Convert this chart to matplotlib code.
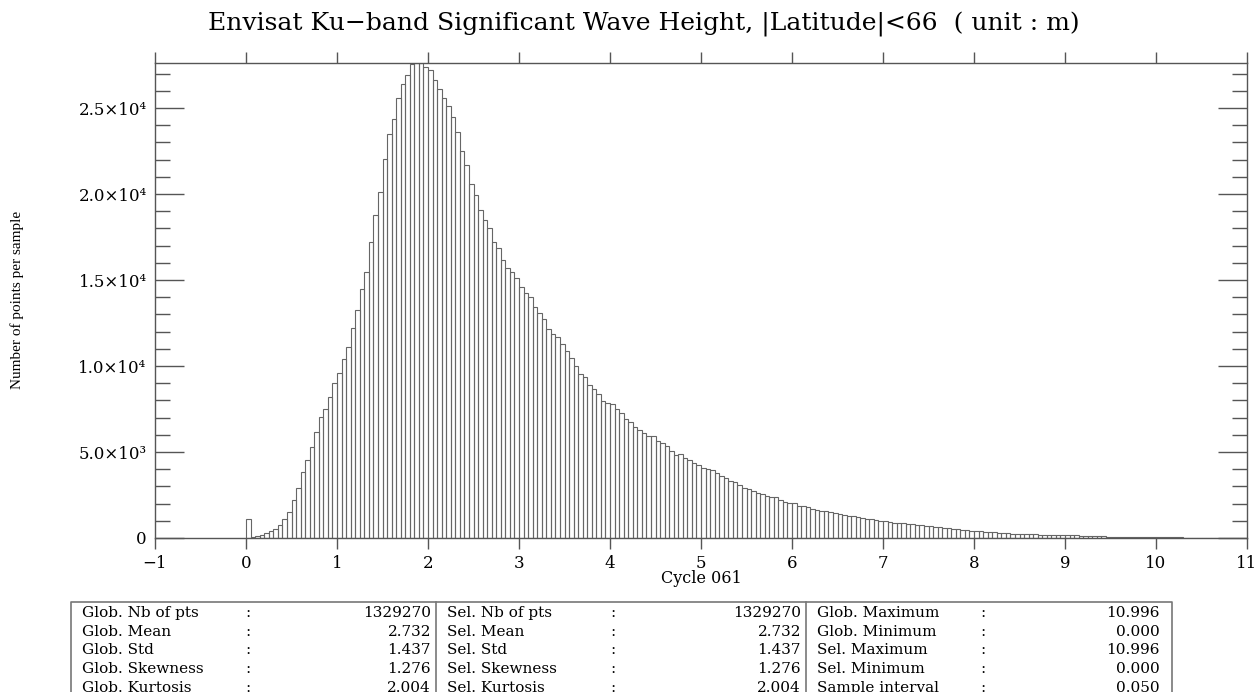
import numpy as np
import matplotlib.pyplot as plt
from matplotlib.ticker import MultipleLocator, FuncFormatter

# histogram of significant wave height, bin width 0.05 m, counts read per unit of x
bin_width = 0.05
counts_0_1 = [1105, 58, 116, 194, 290, 407, 523, 756, 1085, 1531,
              2229, 2926, 3818, 4554, 5291, 6183, 7055, 7482, 8199, 9013]
counts_1_2 = [9575, 10388, 11085, 12192, 13256, 14500, 15495, 17229, 18790, 20110,
              22065, 23515, 24341, 25601, 26425, 26940, 27560, 27620, 27610, 27400]
counts_2_3 = [27230, 26610, 26135, 25610, 25126, 24496, 23595, 22481, 21705, 20590,
              19932, 19060, 18508, 18023, 17210, 16870, 16182, 15678, 15485, 15097]
counts_3_4 = [14574, 14264, 14012, 13411, 13101, 12752, 12132, 11841, 11686, 11260,
              10892, 10446, 9981, 9535, 9380, 8895, 8663, 8392, 7985, 7868]
counts_4_5 = [7771, 7500, 7248, 6919, 6764, 6473, 6260, 6105, 5950, 5950,
              5659, 5504, 5330, 5058, 4826, 4864, 4671, 4554, 4341, 4244]
counts_5_6 = [4070, 4031, 3934, 3760, 3624, 3508, 3295, 3256, 3062, 2926,
              2829, 2713, 2636, 2578, 2423, 2403, 2364, 2190, 2093, 2016]
counts_6_7 = [2016, 1860, 1841, 1802, 1667, 1647, 1590, 1550, 1500, 1440,
              1390, 1330, 1290, 1270, 1220, 1170, 1120, 1080, 1040, 1000]
counts_7_8 = [980, 940, 900, 870, 850, 820, 790, 760, 730, 710,
              690, 650, 620, 590, 560, 540, 510, 480, 450, 420]
counts_8_9 = [400, 380, 360, 340, 330, 310, 290, 270, 260, 250,
              240, 230, 220, 210, 200, 195, 190, 180, 170, 165]
counts_9_10 = [160, 155, 150, 140, 130, 120, 110, 100, 90, 85,
               80, 75, 70, 65, 60, 55, 50, 48, 45, 42]
counts_10_11 = [40, 38, 36, 34, 32, 30, 29, 28, 27, 26,
                25, 24, 23, 22, 21, 20, 20, 19, 18, 17]

counts = np.array(counts_0_1 + counts_1_2 + counts_2_3 + counts_3_4 + counts_4_5
                  + counts_5_6 + counts_6_7 + counts_7_8 + counts_8_9
                  + counts_9_10 + counts_10_11)
edges = np.arange(len(counts)) * bin_width

x_ticks = list(range(-1, 12))

# statistics table (three columns)
col1_names = ['Glob. Nb of pts', 'Glob. Mean', 'Glob. Std', 'Glob. Skewness', 'Glob. Kurtosis']
col1_vals = ['1329270', '2.732', '1.437', '1.276', '2.004']
col2_names = ['Sel. Nb of pts', 'Sel. Mean', 'Sel. Std', 'Sel. Skewness', 'Sel. Kurtosis']
col2_vals = ['1329270', '2.732', '1.437', '1.276', '2.004']
col3_names = ['Glob. Maximum', 'Glob. Minimum', 'Sel. Maximum', 'Sel. Minimum', 'Sample interval']
col3_vals = ['10.996', '0.000', '10.996', '0.000', '0.050']

serif = ['DejaVu Serif']
line_col = '#555555'

W, H = 1260, 692
fig = plt.figure(figsize=(W / 100, H / 100), dpi=100)
ax = fig.add_axes([155 / W, 154 / H, 1092 / W, 475 / H])

ax.bar(edges, counts, width=bin_width, align='edge', fill=False,
       edgecolor='#666666', linewidth=0.8)

ax.set_xlim(-1, 11)
ax.set_ylim(0, counts.max())

for s in ax.spines.values():
    s.set_color(line_col)
    s.set_linewidth(1.0)

ax.set_xticks(x_ticks)
ax.set_xticklabels([str(v).replace('-', '\u2212') for v in x_ticks],
                   family=serif, fontsize=12)
ax.tick_params(axis='x', direction='out', length=8, width=1, color=line_col,
               top=True, pad=4)

sup = str.maketrans('0123456789', '\u2070\u00b9\u00b2\u00b3\u2074\u2075\u2076\u2077\u2078\u2079')


def sci_fmt(v, pos):
    if v <= 0:
        return '0'
    e = int(np.floor(np.log10(v)))
    return '%.1f\u00d710%s' % (v / 10 ** e, str(e).translate(sup))


ax.yaxis.set_major_locator(MultipleLocator(5000))
ax.yaxis.set_minor_locator(MultipleLocator(1000))
ax.yaxis.set_major_formatter(FuncFormatter(sci_fmt))
ax.tick_params(axis='y', which='major', direction='in', length=21, width=1,
               color=line_col, right=True, pad=6, labelsize=12)
ax.tick_params(axis='y', which='minor', direction='in', length=11, width=1,
               color=line_col, right=True)
for lab in ax.get_yticklabels():
    lab.set_family(serif)

ax.set_xlabel('Cycle 061', family=serif, fontsize=11.5, labelpad=-1)

fig.text(644 / W, 1 - 24 / H,
         'Envisat Ku\u2212band Significant Wave Height, |Latitude|<66  ( unit : m)',
         ha='center', va='center', family=serif, fontsize=18)
fig.text(17 / W, 1 - 300 / H, 'Number of points per sample', rotation=90,
         ha='center', va='center', family=['Liberation Serif'], fontsize=11)

# table drawn in pixel coordinates on an overlay axes
tab = fig.add_axes([0, 0, 1, 1])
tab.set_xlim(0, W)
tab.set_ylim(H, 0)
tab.axis('off')
box_l, box_r, box_t, box_b = 71, 1172, 602, 720
tab.plot([box_l, box_r, box_r, box_l, box_l], [box_b, box_b, box_t, box_t, box_b],
         color='#777777', lw=1.2, clip_on=False)
for xd in (436, 806):
    tab.plot([xd, xd], [box_t, box_b], color='#777777', lw=1.2)

row_y = 613 + 18.7 * np.arange(5)
cols = [(col1_names, col1_vals, 82, 248, 431),
        (col2_names, col2_vals, 447, 613, 801),
        (col3_names, col3_vals, 817, 983, 1160)]
for names, vals, xn, xc, xv in cols:
    for y, n, v in zip(row_y, names, vals):
        tab.text(xn, y, n, ha='left', va='center', family=serif, fontsize=11)
        tab.text(xc, y, ':', ha='center', va='center', family=serif, fontsize=11)
        tab.text(xv, y, v, ha='right', va='center', family=serif, fontsize=11)

fig.savefig('out.png', dpi=100)
